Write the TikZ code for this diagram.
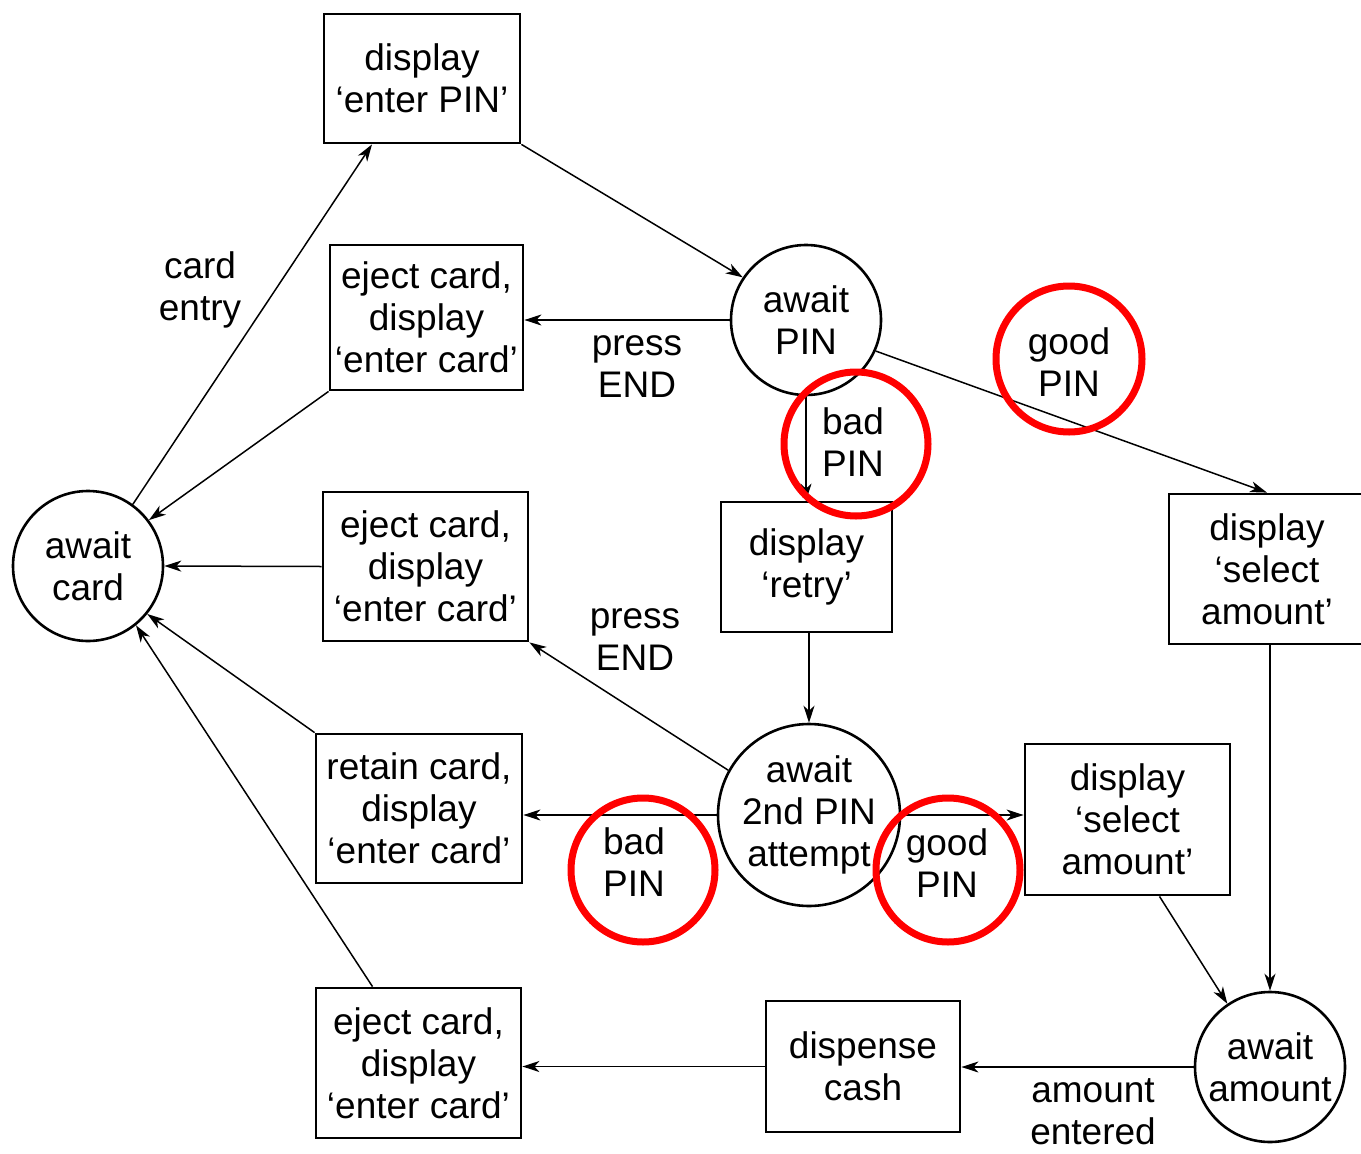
\documentclass[tikz,border=0pt]{standalone}
\usepackage{fontspec}
\setmainfont{Liberation Sans}
\usetikzlibrary{arrows.meta}

\begin{document}
\begin{tikzpicture}[x=1pt,y=-1pt,
  every node/.style={font=\fontsize{37}{42}\selectfont, align=center, inner sep=0pt},
  action/.style={draw, line width=2.8pt, rectangle},
  waitstate/.style={draw, line width=2.6pt, circle},
  flow/.style={line width=1.5pt, -{Stealth[length=17pt,width=11pt,inset=5pt]}},
  hilite/.style={draw=red, line width=7pt}
]
% page
\useasboundingbox (0,0) rectangle (1361,1154);
\fill[white] (0,0) rectangle (1361,1154);

% states
\node[waitstate, minimum size=150pt] (card)   at (88,566)   {await\\card};
\node[waitstate, minimum size=150pt] (pin)    at (806,320)  {await\\PIN};
\node[waitstate, minimum size=182pt] (pin2)   at (809,815)  {await\\2nd PIN\\attempt};
\node[waitstate, minimum size=150pt] (amount) at (1270,1067){await\\amount};

% actions
\node[action, minimum width=196pt, minimum height=129pt] (showpin)  at (422,78.5)    {display\\‘enter PIN’};
\node[action, minimum width=193pt, minimum height=145pt] (ejectA)   at (426.5,317.5) {eject card,\\display\\‘enter card’};
\node[action, minimum width=205pt, minimum height=149pt] (ejectB)   at (425.5,566.5) {eject card,\\display\\‘enter card’};
\node[action, minimum width=206pt, minimum height=149pt] (retain)   at (419,808.5)   {retain card,\\display\\‘enter card’};
\node[action, minimum width=205pt, minimum height=150pt] (ejectC)   at (418.5,1063)  {eject card,\\display\\‘enter card’};
\node[action, minimum width=171pt, minimum height=130pt] (retry)    at (806.5,567)   {display\\‘retry’};
\node[action, minimum width=196pt, minimum height=150pt] (selectA)  at (1267,569)    {display\\‘select\\amount’};
\node[action, minimum width=205pt, minimum height=151pt] (selectB)  at (1127.5,819.5){display\\‘select\\amount’};
\node[action, minimum width=194pt, minimum height=131pt] (cash)     at (863,1066.5)  {dispense\\cash};

% transition labels
\node (lentry)  at (200,290)   {card\\entry};
\node (lend1)   at (637,367)   {press\\END};
\node (lbad1)   at (853,442)   {bad\\PIN};
\node (lgood1)  at (1069,362)  {good\\PIN};
\node (lend2)   at (635,640)   {press\\END};
\node (lbad2)   at (634,862)   {bad\\PIN};
\node (lgood2)  at (947,863)   {good\\PIN};
\node (lamount) at (1093,1112) {amount\\entered};

% transitions
\draw[flow] (card.54) -- ([xshift=-50pt]showpin.south);
\draw[flow] (showpin.south east) -- (pin.146);
\draw[flow] (pin.west) -- (pin.west -| ejectA.east);
\draw[flow] (ejectA.south west) -- (card.37);
\draw[flow] (pin.south) -- (pin.south |- retry.north);
\draw[flow] (pin.-24) -- (selectA.north);
\draw[flow] (ejectB.west) -- (card.east);
\draw[flow] (pin2.north |- retry.south) -- (pin2.north);
\draw[flow] (pin2.151) -- (ejectB.south east);
\draw[flow] (pin2.west) -- (pin2.west -| retain.east);
\draw[flow] (pin2.east) -- (pin2.east -| selectB.west);
\draw[flow] (amount.north |- selectA.south) -- (amount.north);
\draw[flow] ([xshift=32pt]selectB.south) -- (amount.124);
\draw[flow] (amount.west) -- (amount.west -| cash.east);
\draw[flow] (cash.west) -- (cash.west -| ejectC.east);
\draw[flow] (retain.north west) -- (card.-39);
\draw[flow] ([xshift=-46pt]ejectC.north) -- (card.-51);

% highlighted labels
\draw[hilite] (1069,359) circle[radius=73pt];
\draw[hilite] (856,444) circle[radius=72pt];
\draw[hilite] (643,870) circle[radius=72pt];
\draw[hilite] (948,870) circle[radius=72pt];
\end{tikzpicture}
\end{document}
